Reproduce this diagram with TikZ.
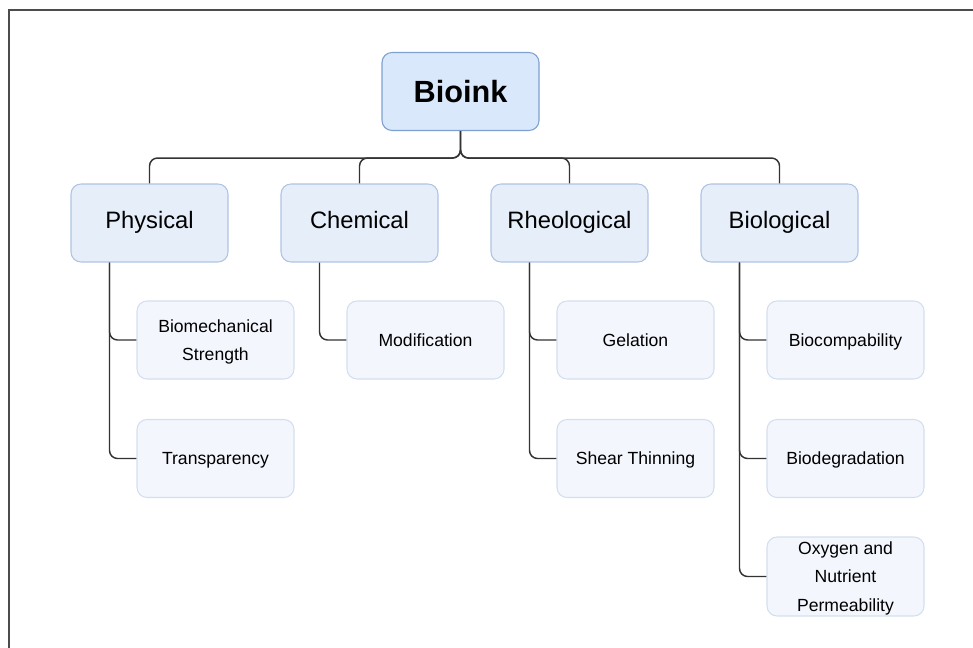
\documentclass[tikz,border=0pt]{standalone}
\usepackage{fontspec}
\setmainfont{Liberation Sans}
\definecolor{rootfill}{HTML}{DAE8FC}
\definecolor{rootline}{HTML}{7EA0CF}
\definecolor{catfill}{HTML}{E6EEFA}
\definecolor{catline}{HTML}{AFC4E3}
\definecolor{leaffill}{HTML}{F3F6FD}
\definecolor{leafline}{HTML}{D3DFF0}
\tikzset{
  root/.style={draw=rootline,fill=rootfill,rounded corners=7.5pt,minimum width=117.75pt,minimum height=58.5pt,line width=0.8pt,font=\fontsize{23}{26}\selectfont\bfseries},
  cat/.style={draw=catline,fill=catfill,rounded corners=7.5pt,minimum width=117.75pt,minimum height=58.5pt,line width=0.8pt,text height=0.85em,text depth=0.05em,font=\fontsize{17.8}{21}\selectfont},
  leaf/.style={draw=leafline,fill=leaffill,rounded corners=7.5pt,minimum width=117.75pt,minimum height=58.5pt,line width=0.8pt,align=center,text depth=-2.5pt,font=\fontsize{13.2}{21.5}\selectfont},
  link/.style={draw=black!80,line width=1.1pt,rounded corners=6pt}
}
\begin{document}
\begin{tikzpicture}[x=0.75pt,y=-0.75pt]
  \useasboundingbox (0,0) rectangle (973,648);
  \draw[black!70,line width=1.5pt] (8.5,648) -- (8.5,10.5) -- (973,10.5);
  \node[root] (bioink) at (460.5,91.5) {Bioink};
  \node[cat] (phys) at (149.5,223) {Physical};
  \node[cat] (chem) at (359.5,223) {Chemical};
  \node[cat] (rheo) at (569.5,223) {Rheological};
  \node[cat] (bio) at (779.5,223) {Biological};
  \node[leaf] (strength) at (215.5,340) {Biomechanical\\Strength};
  \node[leaf] (transp) at (215.5,458.5) {Transparency};
  \node[leaf] (modif) at (425.5,340) {Modification};
  \node[leaf] (gel) at (635.5,340) {Gelation};
  \node[leaf] (shear) at (635.5,458.5) {Shear Thinning};
  \node[leaf] (compat) at (845.5,340) {Biocompability};
  \node[leaf] (degr) at (845.5,458.5) {Biodegradation};
  \node[leaf] (perm) at (845.5,576.5) {Oxygen and\\Nutrient\\Permeability};
  \foreach \c in {phys,chem,rheo,bio}
    \draw[link] (bioink.south) -- ++(0,27) -| (\c.north);
  \foreach \p/\c in {phys/strength,phys/transp,chem/modif,rheo/gel,rheo/shear,bio/compat,bio/degr,bio/perm}
    \draw[link] ([xshift=-30pt]\p.south) |- (\c.west);
\end{tikzpicture}
\end{document}
